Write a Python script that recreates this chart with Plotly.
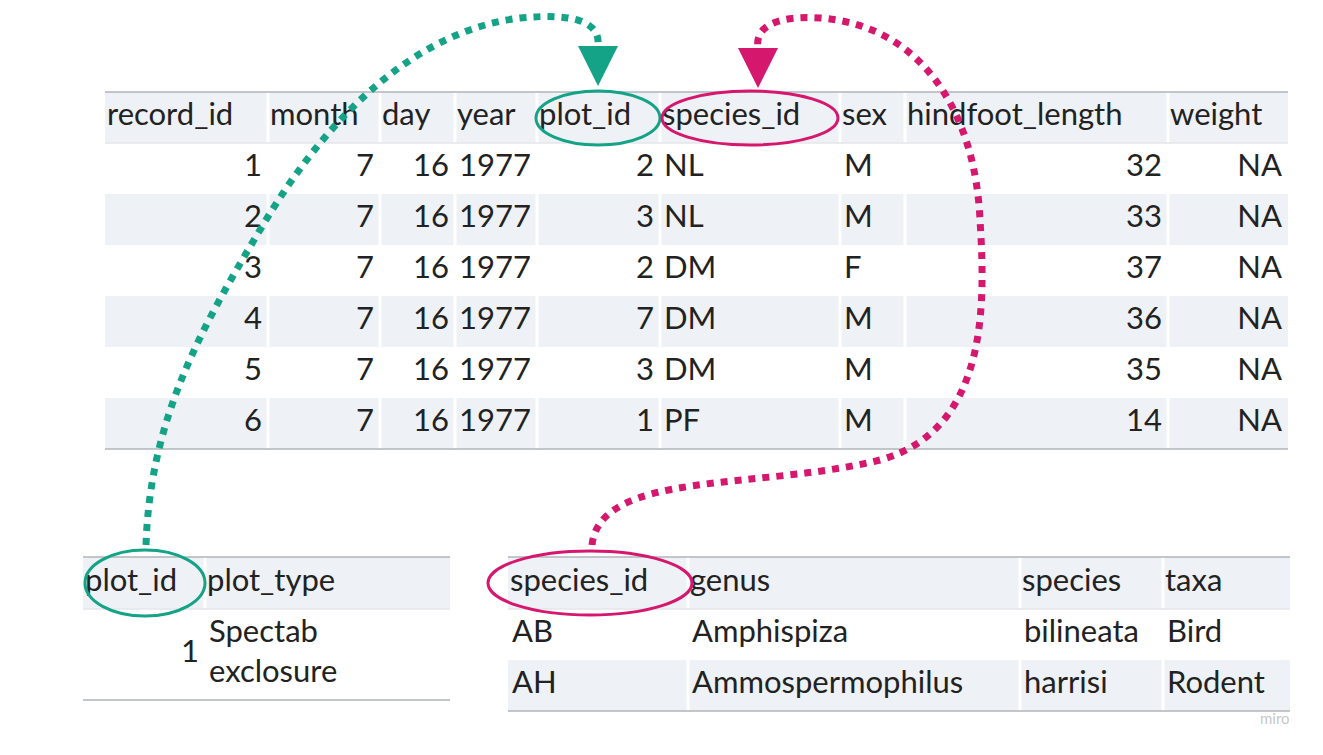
import plotly.graph_objects as go

# survey table
survey_cols = ["record_id", "month", "day", "year", "plot_id", "species_id", "sex", "hindfoot_length", "weight"]
record_id = ["1", "2", "3", "4", "5", "6"]
month = ["7", "7", "7", "7", "7", "7"]
day = ["16", "16", "16", "16", "16", "16"]
year = ["1977", "1977", "1977", "1977", "1977", "1977"]
plot_id = ["2", "3", "2", "7", "3", "1"]
species_id = ["NL", "NL", "DM", "DM", "DM", "PF"]
sex = ["M", "M", "F", "M", "M", "M"]
hindfoot_length = ["32", "33", "37", "36", "35", "14"]
weight = ["NA", "NA", "NA", "NA", "NA", "NA"]

# plots table
plots_cols = ["plot_id", "plot_type"]
plots_id = ["1"]
plots_type = ["Spectab<br>exclosure"]

# species table
species_cols = ["species_id", "genus", "species", "taxa"]
sp_id = ["AB", "AH"]
sp_genus = ["Amphispiza", "Ammospermophilus"]
sp_species = ["bilineata", "harrisi"]
sp_taxa = ["Bird", "Rodent"]

TEAL = "#14a386"
MAG = "#d6176e"
SHADE = "#eef1f5"
TXT = "#222222"
FONT = "Lato"
FS = 31

fig = go.Figure()
shapes = []


def draw_table(edges, align, header, columns, top, hh, rh):
    left, right = edges[0], edges[-1]
    n = len(columns[0])
    shapes.append(dict(type="rect", x0=left, x1=right, y0=top, y1=top + hh, fillcolor=SHADE, line_width=0, layer="below"))
    for i in range(n):
        y0 = top + hh + i * rh
        if i % 2 == 1:
            shapes.append(dict(type="rect", x0=left, x1=right, y0=y0, y1=y0 + rh, fillcolor=SHADE, line_width=0, layer="below"))
    for e in edges[1:-1]:
        shapes.append(dict(type="line", x0=e, x1=e, y0=top, y1=top + hh + n * rh, line=dict(color="white", width=3), layer="below"))
    for yy in (top, top + hh, top + hh + n * rh):
        shapes.append(dict(type="line", x0=left, x1=right, y0=yy, y1=yy, line=dict(color="#b0b4b8" if yy != top + hh else "#e4e6ea", width=1.5)))
    # headers
    fig.add_trace(go.Scatter(x=[edges[j] + 2 for j in range(len(header))], y=[top + hh / 2] * len(header),
                             text=header, mode="text", textposition="middle right",
                             textfont=dict(family=FONT, size=FS, color=TXT), hoverinfo="skip"))
    for j, col in enumerate(columns):
        if align[j] == "r":
            xs, pos = edges[j + 1] - 6, "middle left"
        else:
            xs, pos = edges[j] + 4, "middle right"
        fig.add_trace(go.Scatter(x=[xs] * n, y=[top + hh + (i + 0.5) * rh for i in range(n)],
                                 text=col, mode="text", textposition=pos,
                                 textfont=dict(family=FONT, size=FS, color=TXT), hoverinfo="skip"))


draw_table([105, 268, 380, 455, 537, 660, 840, 905, 1168, 1288],
           ["r", "r", "r", "l", "r", "l", "l", "r", "r"], survey_cols,
           [record_id, month, day, year, plot_id, species_id, sex, hindfoot_length, weight], 92, 51, 51)
draw_table([83, 205, 450], ["r", "l"], plots_cols, [plots_id, plots_type], 557, 52, 91)
draw_table([508, 688, 1020, 1163, 1290], ["l", "l", "l", "l"], species_cols,
           [sp_id, sp_genus, sp_species, sp_taxa], 557, 52, 51)

# ellipses
for cx, cy, rx, ry, c in [(598, 118, 62, 27, TEAL), (750, 118, 88, 27, MAG),
                          (145, 583, 60, 33, TEAL), (590, 583, 102, 32, MAG)]:
    shapes.append(dict(type="circle", x0=cx - rx, x1=cx + rx, y0=cy - ry, y1=cy + ry, line=dict(color=c, width=3)))

# dotted connectors
shapes.append(dict(type="path", path="M 146,545 C 150,420 200,330 260,230 C 330,110 420,30 520,18 C 580,12 600,25 598,45",
                   line=dict(color=TEAL, width=7, dash="dot")))
shapes.append(dict(type="path", path="M 578,46 L 618,46 L 598,86 Z", fillcolor=TEAL, line_width=0))
shapes.append(dict(type="path", path="M 592,545 C 600,470 760,490 880,460 C 990,430 985,300 980,220 C 975,110 920,25 820,18 C 770,15 755,30 758,48",
                   line=dict(color=MAG, width=7, dash="dot")))
shapes.append(dict(type="path", path="M 738,48 L 778,48 L 758,88 Z", fillcolor=MAG, line_width=0))

fig.add_annotation(x=1292, y=718, text="miro", showarrow=False, xanchor="right",
                   font=dict(family=FONT, size=15, color="#c8c8c8"))

# page body has an 8px margin, so offset the ranges to line up with the reference
fig.update_layout(width=1323, height=755, margin=dict(l=0, r=0, t=0, b=0),
                  paper_bgcolor="white", plot_bgcolor="white", showlegend=False, shapes=shapes,
                  xaxis=dict(range=[8, 1331], visible=False, fixedrange=True),
                  yaxis=dict(range=[763, 8], visible=False, fixedrange=True))
fig.write_html("out.html")
